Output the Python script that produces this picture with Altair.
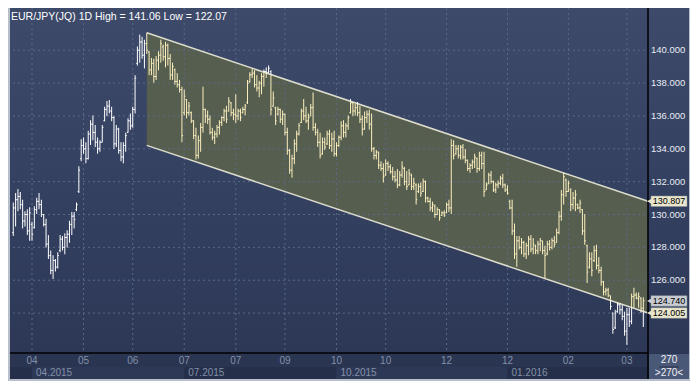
import altair as alt
import pandas as pd

# ---------------- data ----------------
TITLE = "EUR/JPY(JQ) 1D  High = 141.06 Low = 122.07"

highs = [
    130.73, 131.31, 131.55, 131.37, 130.90, 130.20, 130.32, 130.44, 129.56, 130.50,
    131.02, 131.31, 130.90, 130.03, 129.74, 128.75, 127.81, 127.52, 127.29, 127.70,
    128.75, 128.69, 128.86, 129.04, 129.62, 130.15, 130.15, 130.73, 132.94, 134.58,
    134.69, 134.40, 135.10, 135.74, 136.03, 135.45, 134.69, 134.52, 135.45, 136.56,
    136.91, 136.97, 136.56, 135.98, 135.45, 135.28, 134.40, 134.40, 134.98, 135.86,
    136.15, 136.56, 138.48, 140.23, 140.95, 140.82, 140.64, 141.06, 139.94, 139.53,
    139.48, 139.65, 139.94, 140.64, 140.35, 140.52, 140.41, 139.77, 139.24, 138.89,
    138.60, 138.19, 137.78, 137.61, 137.03, 136.85, 136.27, 135.74, 135.28, 134.81,
    135.57, 137.78, 136.44, 136.33, 136.03, 135.28, 135.10, 135.45, 135.74, 135.98,
    136.44, 136.62, 137.14, 136.85, 136.44, 137.32, 136.44, 136.44, 136.56, 136.73,
    138.19, 138.66, 138.89, 138.78, 138.48, 138.14, 138.60, 138.83, 138.95, 139.07,
    138.78, 137.49, 136.56, 136.56, 136.44, 136.33, 136.15, 135.28, 133.99, 133.64,
    134.58, 135.10, 135.57, 136.44, 137.03, 136.56, 136.15, 136.73, 137.43, 135.57,
    135.22, 134.98, 134.69, 134.69, 135.10, 135.16, 134.98, 135.10, 134.40, 134.81,
    135.68, 135.74, 135.57, 136.03, 137.03, 136.85, 136.73, 136.85, 136.62, 136.03,
    136.27, 136.33, 136.38, 136.15, 134.11, 133.93, 133.82, 133.24, 133.12, 133.35,
    133.24, 133.06, 132.89, 132.65, 132.77, 132.65, 133.24, 132.89, 132.65, 132.77,
    132.48, 132.24, 131.89, 131.89, 131.95, 132.19, 132.07, 131.08, 131.02, 130.79,
    130.61, 130.44, 130.32, 130.20, 130.26, 130.73, 130.90, 134.58, 134.52, 134.23,
    134.23, 134.23, 134.29, 133.99, 133.35, 133.12, 133.35, 133.70, 133.47, 133.82,
    133.82, 133.82, 131.95, 132.54, 132.65, 132.07, 131.95, 132.07, 132.36, 132.48,
    131.89, 131.78, 130.90, 130.90, 129.45, 128.69, 128.69, 128.57, 128.40, 128.28,
    128.69, 128.75, 128.57, 128.16, 128.40, 128.57, 128.40, 128.10, 128.40, 128.45,
    128.57, 128.69, 129.15, 130.20, 131.49, 132.54, 132.19, 132.07, 131.60, 131.37,
    131.49, 130.67, 130.90, 130.32, 130.03, 128.16, 127.70, 127.70, 128.10, 128.16,
    127.41, 126.82, 125.95, 125.54, 125.54, 125.07, 124.02, 124.20, 124.67, 124.61,
    124.49, 124.09, 124.32, 124.32, 125.19, 125.54, 125.25, 125.25, 124.96, 124.96,
]
lows = [
    128.69, 129.27, 130.20, 130.32, 129.15, 129.27, 128.75, 128.40, 128.40, 129.15,
    130.03, 130.32, 129.85, 129.27, 127.99, 127.29, 126.36, 126.07, 126.53, 126.71,
    127.70, 127.81, 127.58, 127.99, 128.28, 128.75, 129.15, 130.20, 131.31, 133.24,
    133.70, 133.12, 133.35, 134.23, 134.52, 134.11, 133.70, 133.82, 134.40, 135.68,
    135.98, 136.15, 135.68, 133.99, 134.11, 133.70, 133.24, 133.12, 133.82, 134.98,
    135.16, 135.28, 136.15, 139.07, 139.24, 139.48, 138.89, 139.77, 138.48, 138.48,
    138.02, 138.19, 138.78, 139.24, 139.36, 138.95, 139.07, 138.19, 138.19, 137.90,
    137.73, 137.43, 134.40, 136.03, 135.86, 136.03, 135.57, 134.58, 133.35, 133.41,
    133.82, 134.98, 135.57, 135.51, 134.87, 134.52, 134.29, 134.69, 134.87, 135.39,
    135.68, 135.57, 136.27, 135.98, 135.74, 135.57, 135.74, 135.68, 136.15, 136.03,
    136.73, 138.02, 138.31, 137.73, 137.49, 137.14, 137.32, 137.78, 138.31, 138.60,
    136.03, 136.56, 135.45, 136.03, 135.57, 135.45, 134.81, 133.64, 132.48, 132.24,
    133.06, 133.82, 134.81, 135.57, 135.74, 135.57, 135.16, 135.98, 135.10, 134.81,
    134.11, 133.41, 133.64, 133.93, 134.23, 133.99, 133.82, 133.53, 133.53, 134.11,
    134.52, 134.69, 134.69, 135.16, 136.15, 135.98, 136.03, 135.98, 135.57, 134.81,
    135.16, 135.57, 135.16, 133.82, 133.35, 133.35, 132.77, 132.65, 131.95, 132.36,
    132.65, 132.48, 132.07, 131.95, 131.60, 131.72, 132.24, 131.78, 131.49, 131.78,
    131.49, 131.49, 130.61, 131.31, 131.08, 131.37, 130.73, 130.73, 130.20, 130.15,
    129.80, 129.97, 129.62, 129.91, 129.85, 130.09, 130.15, 130.03, 133.35, 133.64,
    133.41, 133.35, 133.35, 133.12, 132.65, 132.54, 132.77, 132.83, 132.54, 132.65,
    132.77, 131.08, 131.49, 131.84, 131.89, 131.37, 131.31, 131.60, 131.78, 131.60,
    131.37, 131.20, 130.32, 128.75, 127.29, 126.82, 127.87, 127.58, 127.41, 127.29,
    127.52, 127.70, 127.58, 127.58, 127.58, 127.76, 127.58, 126.12, 127.52, 127.81,
    127.87, 127.99, 128.28, 128.80, 129.62, 130.61, 131.08, 131.37, 130.20, 130.32,
    130.20, 130.32, 130.09, 128.75, 128.16, 125.83, 126.71, 126.24, 127.11, 126.65,
    126.42, 125.66, 125.07, 125.07, 124.96, 124.20, 122.74, 123.03, 124.02, 123.91,
    123.56, 122.62, 122.07, 123.15, 123.32, 124.32, 124.84, 124.32, 124.02, 123.15,
]
opens = [
    128.90, 130.40, 130.90, 131.10, 130.60, 129.60, 130.00, 129.00, 129.40, 129.20,
    130.30, 130.80, 130.60, 130.00, 129.40, 128.20, 127.50, 126.60, 127.20, 126.80,
    127.80, 128.50, 128.00, 128.60, 128.80, 129.40, 129.90, 130.30, 131.40, 133.40,
    134.20, 134.00, 133.40, 134.90, 135.50, 135.00, 134.40, 134.00, 134.40, 135.70,
    136.40, 136.60, 136.30, 135.90, 134.30, 135.20, 133.90, 133.50, 134.20, 135.00,
    135.70, 135.40, 136.40, 139.20, 140.00, 140.50, 139.70, 140.40, 139.90, 138.80,
    139.20, 138.40, 139.40, 139.70, 140.20, 139.60, 140.30, 139.50, 138.50, 138.80,
    138.10, 137.90, 137.60, 136.20, 137.00, 136.20, 136.20, 135.70, 134.80, 133.60,
    134.50, 135.30, 136.40, 136.00, 135.80, 135.00, 134.70, 134.90, 135.30, 135.60,
    135.90, 136.30, 136.30, 136.80, 136.20, 136.10, 136.00, 136.30, 136.20, 136.40,
    136.80, 138.10, 138.50, 138.60, 137.90, 137.70, 138.00, 138.40, 138.70, 138.65,
    138.70, 136.60, 136.50, 136.10, 136.40, 135.80, 136.10, 135.00, 133.90, 132.70,
    133.40, 134.30, 134.90, 135.60, 136.30, 136.00, 135.70, 136.00, 136.50, 135.30,
    135.00, 134.40, 133.70, 134.40, 134.30, 134.90, 134.20, 134.60, 133.70, 134.20,
    134.70, 135.40, 135.00, 135.40, 136.20, 136.80, 136.30, 136.50, 136.20, 135.80,
    135.20, 135.90, 136.10, 135.50, 134.00, 133.60, 133.80, 133.00, 132.80, 132.40,
    133.10, 132.90, 132.60, 132.30, 132.10, 131.80, 132.40, 132.80, 132.00, 131.80,
    132.40, 131.70, 131.80, 131.40, 131.70, 131.40, 132.00, 131.00, 130.80, 130.40,
    130.50, 130.00, 130.30, 129.95, 130.10, 130.10, 130.60, 130.40, 134.20, 133.70,
    134.00, 133.60, 134.10, 133.50, 133.30, 132.80, 133.00, 133.20, 133.40, 132.80,
    133.60, 133.10, 131.50, 131.90, 132.40, 132.00, 131.50, 131.80, 131.90, 132.20,
    131.80, 131.50, 130.80, 130.40, 129.00, 127.60, 128.40, 128.00, 128.30, 127.60,
    128.10, 128.50, 127.90, 128.10, 127.80, 128.20, 128.40, 127.80, 127.60, 128.20,
    128.00, 128.40, 128.30, 128.90, 129.90, 131.20, 132.10, 131.40, 131.50, 130.60,
    131.00, 130.60, 130.40, 130.30, 129.00, 128.10, 126.80, 127.30, 127.20, 127.80,
    126.90, 126.60, 125.90, 125.30, 125.40, 125.05, 124.00, 123.10, 124.10, 124.50,
    124.20, 123.80, 122.90, 123.90, 123.50, 125.00, 125.10, 124.90, 124.90, 124.30,
]
closes = [
    130.40, 130.90, 131.10, 130.60, 129.60, 130.00, 129.00, 130.10, 128.80, 130.30,
    130.80, 130.60, 130.00, 129.40, 128.20, 127.50, 126.60, 127.20, 126.80, 127.50,
    128.50, 128.00, 128.60, 128.80, 129.40, 129.90, 129.70, 130.60, 132.70, 134.20,
    134.00, 133.40, 134.90, 135.50, 135.00, 134.40, 134.00, 134.40, 135.30, 136.40,
    136.60, 136.30, 135.90, 134.30, 135.20, 133.90, 133.50, 134.20, 134.80, 135.70,
    135.40, 136.40, 138.30, 140.00, 140.50, 139.70, 140.40, 140.00, 138.80, 139.20,
    138.40, 139.40, 139.70, 140.40, 139.60, 140.30, 139.50, 138.50, 139.00, 138.10,
    137.90, 137.60, 134.80, 137.20, 136.20, 136.60, 135.70, 134.80, 133.60, 134.50,
    135.30, 136.40, 136.00, 135.80, 135.00, 134.70, 134.90, 135.30, 135.60, 135.90,
    136.30, 135.80, 136.90, 136.20, 136.10, 136.00, 136.30, 135.90, 136.40, 136.60,
    138.00, 138.50, 138.60, 137.90, 137.70, 138.00, 138.40, 138.70, 138.60, 138.90,
    136.40, 137.10, 135.70, 136.40, 135.80, 136.10, 135.00, 133.90, 132.70, 133.40,
    134.30, 134.90, 135.40, 136.30, 136.00, 135.70, 135.90, 136.50, 135.30, 135.00,
    134.40, 133.60, 134.40, 134.10, 134.90, 134.20, 134.60, 133.70, 134.20, 134.70,
    135.40, 135.00, 135.40, 135.90, 136.80, 136.30, 136.50, 136.20, 135.80, 135.20,
    135.90, 136.10, 135.50, 134.00, 133.60, 133.80, 133.00, 132.80, 132.30, 133.10,
    132.90, 132.60, 132.30, 132.10, 131.80, 132.40, 132.90, 132.00, 131.70, 132.50,
    131.70, 131.90, 130.90, 131.70, 131.30, 132.00, 131.00, 130.80, 130.40, 130.60,
    130.00, 130.30, 129.80, 130.10, 129.95, 130.60, 130.40, 134.20, 133.60, 134.00,
    133.60, 134.10, 133.50, 133.30, 132.80, 133.00, 133.20, 133.50, 132.80, 133.60,
    133.10, 131.40, 131.80, 132.40, 132.00, 131.50, 131.80, 131.90, 132.20, 131.80,
    131.50, 131.30, 130.40, 129.00, 127.60, 128.40, 128.00, 128.30, 127.60, 128.10,
    128.50, 127.90, 128.20, 127.80, 128.20, 128.40, 127.80, 127.50, 128.20, 128.00,
    128.40, 128.20, 128.90, 129.90, 131.20, 132.30, 131.40, 131.90, 130.60, 131.00,
    131.20, 130.40, 130.70, 129.00, 128.40, 126.50, 127.30, 126.60, 127.80, 126.90,
    126.60, 125.90, 125.30, 125.40, 125.10, 124.40, 123.00, 124.00, 124.50, 124.20,
    123.80, 122.90, 123.90, 123.50, 125.00, 125.10, 124.90, 125.00, 124.30, 124.74,
]

# x-axis ticks (bar index) and their labels
month_idx = [8, 30, 51, 73, 95, 116, 138, 159, 185, 211, 237, 262]
month_lbl = ["04", "05", "06", "07", "07", "09", "10", "10", "12", "12", "02", "03"]
quarter_idx = [8, 73, 138, 211]
quarter_lbl = ["04.2015", "07.2015", "10.2015", "01.2016"]

grid_prices = [124, 126, 128, 130, 132, 134, 136, 138, 140]
label_prices = [126, 128, 130, 132, 134, 136, 138, 140]

# regression channel (start bar index -> right edge)
chan_idx = [57, 271]
chan_upper = [141.06, 130.807]
chan_lower = [134.21, 124.005]

tag_values = [130.807, 124.740, 124.005]
tag_fills = ["#e8e6cc", "#c8ccd2", "#e8e6cc"]
count_top = "270"
count_bottom = ">270<"

# ---------------- layout ----------------
W, H = 640, 345
PR, PB = 42, 28
X_MIN, X_MAX = -2.25, 271
FONT = "Liberation Sans"
WHITE = "#ffffff"
CREAM = "#fcefbe"

xs = alt.Scale(domain=[X_MIN, X_MAX], nice=False, zero=False)
ys = alt.Scale(domain=[121.57, 142.57], nice=False, zero=False)
zone_scale = alt.Scale(domain=["out", "in"], range=[WHITE, CREAM])


def chan_at(i, ends):
    return ends[0] + (ends[1] - ends[0]) * (i - chan_idx[0]) / (chan_idx[1] - chan_idx[0])


def zone_of(i, p):
    if i < chan_idx[0]:
        return "out"
    return "in" if chan_at(i, chan_lower) <= p <= chan_at(i, chan_upper) else "out"


seg_rows = []
tick_rows = []
for i, (h, l, o, c) in enumerate(zip(highs, lows, opens, closes)):
    if i < chan_idx[0]:
        seg_rows.append({"i": i, "lo": l, "hi": h, "zone": "out"})
    else:
        lc, uc = chan_at(i, chan_lower), chan_at(i, chan_upper)
        if l < lc:
            seg_rows.append({"i": i, "lo": l, "hi": min(h, lc), "zone": "out"})
        a, b = max(l, lc), min(h, uc)
        if b > a:
            seg_rows.append({"i": i, "lo": a, "hi": b, "zone": "in"})
        if h > uc:
            seg_rows.append({"i": i, "lo": max(l, uc), "hi": h, "zone": "out"})
    tick_rows.append({"xa": i - 0.5, "xb": i, "p": o, "zone": zone_of(i, o)})
    tick_rows.append({"xa": i, "xb": i + 0.5, "p": c, "zone": zone_of(i, c)})

segs = pd.DataFrame(seg_rows)
ticks = pd.DataFrame(tick_rows)
one = pd.DataFrame({"k": [0]})

months = pd.DataFrame({"idx": month_idx, "lbl": month_lbl})
quarters = pd.DataFrame({"idx": quarter_idx, "lbl": quarter_lbl})
strip_df = pd.DataFrame({
    "a": [X_MIN] + quarter_idx,
    "b": quarter_idx + [X_MAX],
    "shade": ["#252f4a", "#2d3857", "#252f4a", "#2d3857", "#252f4a"],
})
grid_df = pd.DataFrame({"p": grid_prices})
ylab_df = pd.DataFrame({"p": label_prices, "lbl": [f"{p:.3f}" for p in label_prices]})
chan_df = pd.DataFrame({"idx": chan_idx, "up": chan_upper, "lo": chan_lower})
chan_lines = pd.DataFrame({
    "idx": chan_idx + chan_idx,
    "v": chan_upper + chan_lower,
    "which": ["u", "u", "l", "l"],
})
tags = pd.DataFrame({
    "v": tag_values,
    "top": [v + 0.32 for v in tag_values],
    "bot": [v - 0.32 for v in tag_values],
    "fill": tag_fills,
    "lbl": [f"{v:.3f}" for v in tag_values],
})

# ---------------- layers ----------------
bg = alt.Chart(one).mark_rect(
    fill=alt.Gradient(
        gradient="linear",
        stops=[alt.GradientStop(color="#3d4a6a", offset=0),
               alt.GradientStop(color="#2d3857", offset=1)],
        x1=0, x2=0, y1=0, y2=1,
    )
).encode(x=alt.value(0), x2=alt.value(W + PR), y=alt.value(0), y2=alt.value(H))

strips = alt.Chart(strip_df).mark_rect().encode(
    x=alt.X("a:Q", scale=xs, axis=None), x2="b:Q",
    y=alt.value(H + 14), y2=alt.value(H + PB - 2),
    fill=alt.Fill("shade:N", scale=None),
)

hgrid = alt.Chart(grid_df).mark_rule(color="#5b6886", strokeDash=[2, 3], strokeWidth=1).encode(
    y=alt.Y("p:Q", scale=ys, axis=None),
    x=alt.value(0), x2=alt.value(W),
)

ylabels = alt.Chart(ylab_df).mark_text(
    font=FONT, fontSize=9.5, color="#e8ecf4", align="left", baseline="middle"
).encode(
    x=alt.value(W + 3), y=alt.Y("p:Q", scale=ys, axis=None), text="lbl:N",
)

vgrid = alt.Chart(months).mark_rule(color="#5b6886", strokeDash=[2, 3], strokeWidth=1).encode(
    x=alt.X("idx:Q", scale=xs, axis=None), y=alt.value(0), y2=alt.value(H),
)

chan_area = alt.Chart(chan_df).mark_area(color="#555e4f", opacity=1).encode(
    x=alt.X("idx:Q", scale=xs, axis=None),
    y=alt.Y("up:Q", scale=ys, axis=None), y2="lo:Q",
)

chan_border = alt.Chart(chan_lines).mark_line(color="#dcdccc", strokeWidth=1.5).encode(
    x=alt.X("idx:Q", scale=xs, axis=None),
    y=alt.Y("v:Q", scale=ys, axis=None),
    detail="which:N",
)

bars = alt.Chart(segs).mark_rule(strokeWidth=1).encode(
    x=alt.X("i:Q", scale=xs, axis=None),
    y=alt.Y("lo:Q", scale=ys, axis=None), y2="hi:Q",
    color=alt.Color("zone:N", scale=zone_scale, legend=None),
)

oc = alt.Chart(ticks).mark_rule(strokeWidth=1).encode(
    x=alt.X("xa:Q", scale=xs, axis=None), x2="xb:Q",
    y=alt.Y("p:Q", scale=ys, axis=None),
    color=alt.Color("zone:N", scale=zone_scale, legend=None),
)

right_box = alt.Chart(one).mark_rect(color="#4a5877").encode(
    x=alt.value(W + 1), x2=alt.value(W + PR), y=alt.value(H + 1), y2=alt.value(H + PB),
)
count_rule = alt.Chart(one).mark_rule(color="#26304a", strokeWidth=1).encode(
    x=alt.value(W + 11), x2=alt.value(W + 31), y=alt.value(H + 14),
)
count_t1 = alt.Chart(one).mark_text(font=FONT, fontSize=10, color="#f0f2f6").encode(
    x=alt.value(W + 21), y=alt.value(H + 7), text=alt.value(count_top),
)
count_t2 = alt.Chart(one).mark_text(font=FONT, fontSize=10, color="#f0f2f6").encode(
    x=alt.value(W + 21), y=alt.value(H + 20), text=alt.value(count_bottom),
)

axis_v = alt.Chart(one).mark_rule(color="#000000", strokeWidth=1.5).encode(
    x=alt.value(W), y=alt.value(0), y2=alt.value(H + PB),
)
axis_h = alt.Chart(one).mark_rule(color="#000000", strokeWidth=1.5).encode(
    x=alt.value(0), x2=alt.value(W), y=alt.value(H),
)

tag_box = alt.Chart(tags).mark_rect(stroke="#8a8f96", strokeWidth=0.5).encode(
    x=alt.value(W + 3), x2=alt.value(W + 39),
    y=alt.Y("top:Q", scale=ys, axis=None), y2="bot:Q",
    fill=alt.Fill("fill:N", scale=None),
)
tag_tip = alt.Chart(tags).mark_point(shape="triangle-left", filled=True, size=45, opacity=1).encode(
    x=alt.value(W + 2), y=alt.Y("v:Q", scale=ys, axis=None),
    color=alt.Color("fill:N", scale=None),
)
tag_text = alt.Chart(tags).mark_text(font=FONT, fontSize=9, color="#000000").encode(
    x=alt.value(W + 21), y=alt.Y("v:Q", scale=ys, axis=None), text="lbl:N",
)

month_text = alt.Chart(months).mark_text(font=FONT, fontSize=10, color="#8390a8").encode(
    x=alt.X("idx:Q", scale=xs, axis=None), y=alt.value(H + 8), text="lbl:N",
)
quarter_text = alt.Chart(quarters).mark_text(
    font=FONT, fontSize=10, color="#8390a8", align="left", dx=4
).encode(
    x=alt.X("idx:Q", scale=xs, axis=None), y=alt.value(H + 20), text="lbl:N",
)

title = alt.Chart(one).mark_text(
    font=FONT, fontSize=10.5, color="#ffffff", align="left", baseline="middle"
).encode(x=alt.value(3), y=alt.value(9), text=alt.value(TITLE))

border_l = alt.Chart(one).mark_rect(color="#b7bfcb").encode(
    x=alt.value(0), x2=alt.value(2), y=alt.value(0), y2=alt.value(H + PB),
)
border_b = alt.Chart(one).mark_rect(color="#b7bfcb").encode(
    x=alt.value(0), x2=alt.value(W + PR), y=alt.value(H + PB - 2), y2=alt.value(H + PB),
)
border_r = alt.Chart(one).mark_rect(color="#b7bfcb").encode(
    x=alt.value(W + PR - 1), x2=alt.value(W + PR), y=alt.value(0), y2=alt.value(H + PB),
)

chart = alt.layer(
    bg, strips, chan_area, hgrid, vgrid, chan_border, bars, oc, ylabels,
    right_box, count_rule, count_t1, count_t2, axis_v, axis_h,
    tag_box, tag_tip, tag_text, month_text, quarter_text, title,
    border_l, border_b, border_r,
).properties(
    width=W, height=H,
    background="#2a3552",
    padding={"left": 0, "top": 0, "right": PR, "bottom": PB},
    autosize=alt.AutoSizeParams(type="none"),
).configure_view(stroke=None)

chart.save("out.html", embed_options={"renderer": "svg", "actions": False})
